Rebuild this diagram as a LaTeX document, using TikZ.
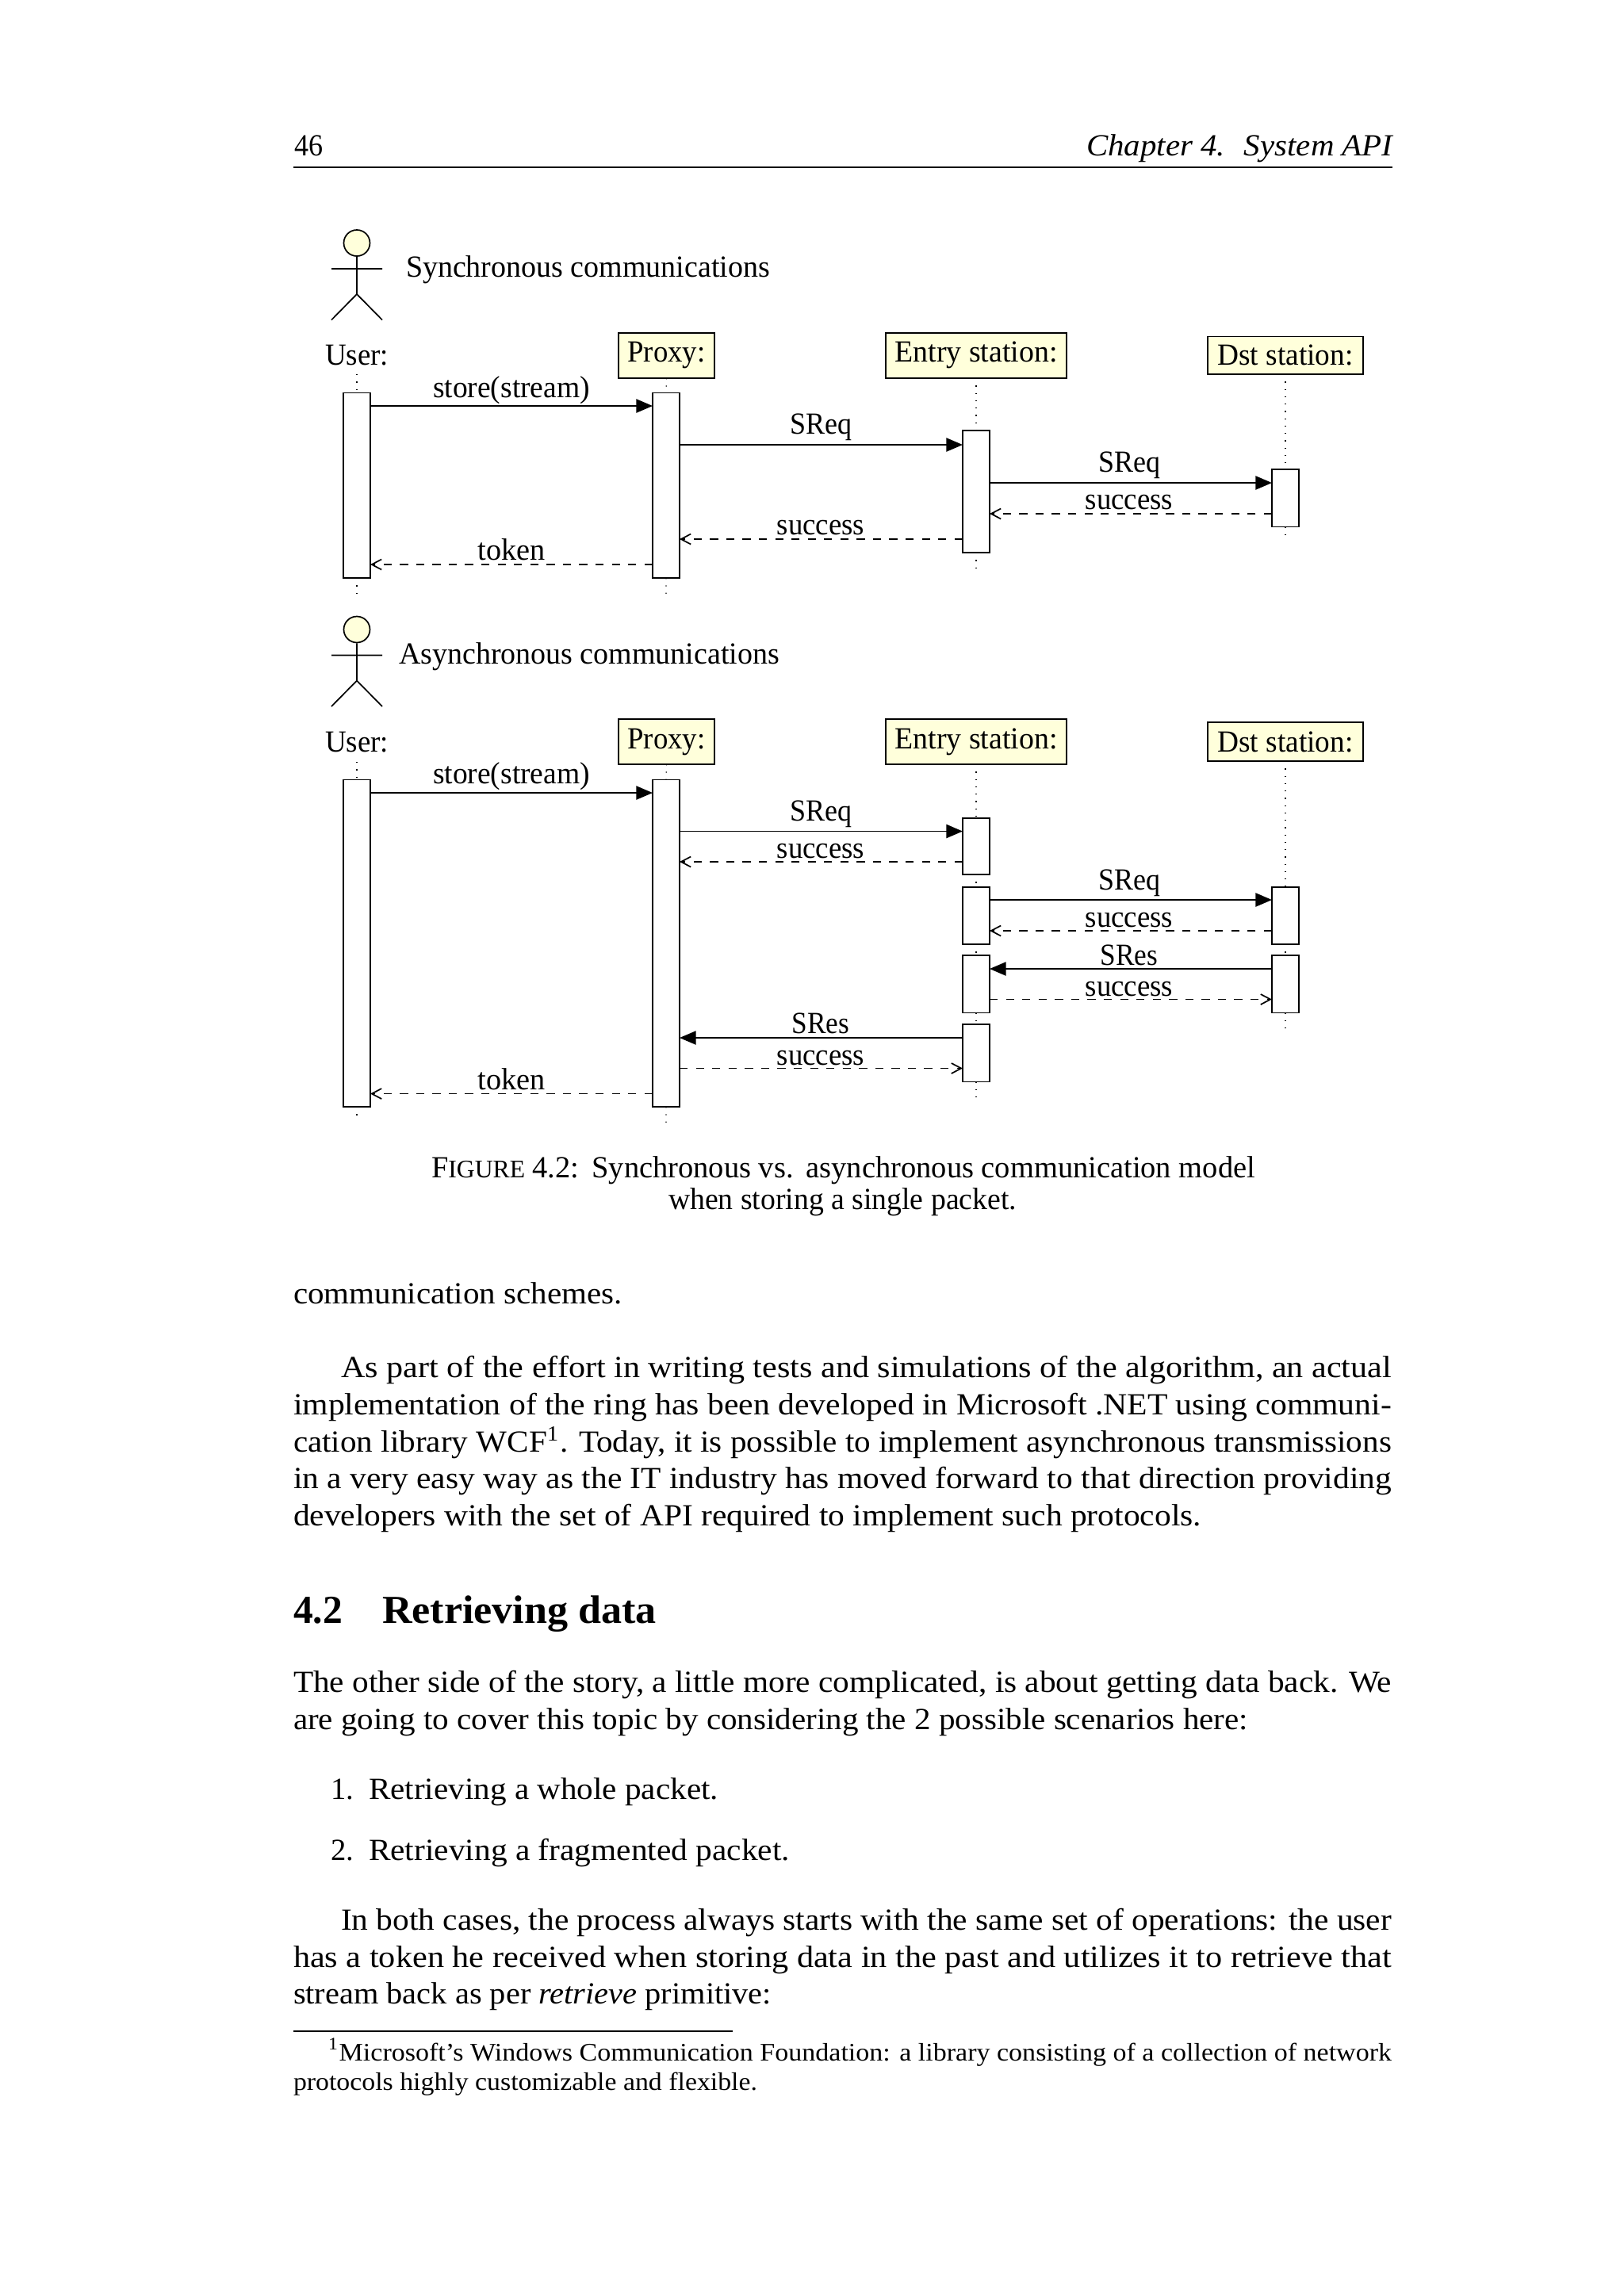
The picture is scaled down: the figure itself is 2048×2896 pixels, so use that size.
\documentclass[tikz,border=0pt]{standalone}
\usepackage{fontspec}
\setmainfont{Liberation Serif}
\usetikzlibrary{arrows.meta}
\newsavebox\mybox
\newcommand\fitw[2]{\sbox\mybox{#2}\pgfmathsetmacro\sxf{#1*0.29175pt/\the\wd\mybox}\scalebox{\sxf}[1]{\usebox\mybox}}
\definecolor{umlyellow}{HTML}{FFFFDB}
\tikzset{
  x=0.29175pt,y=-0.29175pt,
  body/.style={inner sep=0pt,outer sep=0pt,anchor=base west,font=\fontsize{11.3}{13}\selectfont},
  small/.style={body,font=\fontsize{9.3}{11}\selectfont},
  sect/.style={body,font=\fontsize{14.6}{17}\selectfont\bfseries},
  lab/.style={inner sep=0pt,outer sep=0pt,anchor=base,font=\fontsize{11.3}{13}\selectfont},
  headbox/.style={lab,draw=black,fill=umlyellow,line width=0.5pt,anchor=center,minimum width=10pt},
  actbox/.style={draw=black,fill=white,line width=0.5pt,inner sep=0pt,outer sep=0pt,minimum width=34*0.29175pt},
  life/.style={line width=0.4pt,dash pattern=on 0.4pt off 2.3pt},
  syn/.style={line width=0.5pt,-{Triangle[length=6pt,width=5pt]}},
  ret/.style={line width=0.5pt,dash pattern=on 3pt off 3pt,-{Straight Barb[length=3.6pt,width=3.8pt]}},
  rule/.style={line width=0.5pt},
  limb/.style={line width=0.5pt}
}
\newcommand\txt[5][body]{\node[#1] (#2) at (#3) {\fitw{#4}{#5}};}
\newcommand\act[4]{\node[actbox,minimum height={(#4-#3)*0.29175pt}] (#1) at ({#2},{(#3+#4)/2}) {};}
\newcommand\msg[7]{\draw[#1] (#2 |- 0,#4) -- (#3 |- 0,#4);\node[lab] (#5) at (#6) {\fitw{#7}{\csname lbl#5\endcsname}};}
\newcommand\actor[2]{%
  \node[circle,draw=black,fill=umlyellow,line width=0.5pt,inner sep=0pt,minimum size=33*0.29175pt] (#1head) at (450,#2) {};
  \coordinate (#1hip) at (450,#2+64.5);
  \coordinate (#1la) at (418,#2+32.5);\coordinate (#1ra) at (482,#2+32.5);
  \coordinate (#1ll) at (418,#2+97);\coordinate (#1rl) at (482,#2+97);
  \draw[limb] (#1head.south) -- (#1hip) (#1la) -- (#1ra) (#1ll) -- (#1hip) -- (#1rl);}
\begin{document}
\begin{tikzpicture}
\useasboundingbox (0,0) rectangle (2048,2896);
\fill[white] (0,0) rectangle (2048,2896);
% running head
\txt{hn}{371,196}{36}{46}
\txt{hc}{1370,196}{388}{\textit{Chapter 4. \ System API}}
\coordinate (hrl) at (370,211);\coordinate (hrr) at (1756,211);
\draw[rule] (hrl) -- (hrr);
% ---------- synchronous
\actor{a}{306.5}
\txt{st}{512,349}{459}{Synchronous communications}
\node[lab] (u1) at (450,460) {\fitw{80}{User:}};
\node[headbox,minimum width=121*0.29175pt,minimum height=57*0.29175pt] (p1) at (840.5,448.5) {};
\txt[lab]{p1t}{840.5,456}{98}{Proxy:}
\node[headbox,minimum width=228*0.29175pt,minimum height=57*0.29175pt] (e1) at (1231,448.5) {};
\txt[lab]{e1t}{1231,456}{205}{Entry station:}
\node[headbox,minimum width=196*0.29175pt,minimum height=47.5*0.29175pt] (d1) at (1621,448.25) {};
\txt[lab]{d1t}{1621,460}{171}{Dst station:}
\act{au1}{450}{495.5}{729}
\act{ap1}{840}{495.5}{729}
\act{ae1}{1231}{543}{697}
\act{ad1}{1621}{592}{664.5}
\coordinate (u1top) at (450,472);\coordinate (u1end) at (450,748);
\coordinate (p1end) at (840,750);\coordinate (e1end) at (1231,717);\coordinate (d1end) at (1621,681);
\draw[life] (u1top) -- (au1.north) (au1.south) -- (u1end);
\draw[life] (p1.south) -- (ap1.north) (ap1.south) -- (p1end);
\draw[life] (e1.south) -- (ae1.north) (ae1.south) -- (e1end);
\draw[life] (d1.south) -- (ad1.north) (ad1.south) -- (d1end);
\def\lblma{store(stream)}\def\lblmb{SReq}\def\lblmc{SReq}\def\lblmd{success}\def\lblme{success}\def\lblmf{token}
\msg{syn}{au1.east}{ap1.west}{512}{ma}{645,501}{198}
\msg{syn}{ap1.east}{ae1.west}{561}{mb}{1035,547}{78}
\msg{syn}{ae1.east}{ad1.west}{609}{mc}{1424,595}{78}
\msg{ret}{ad1.west}{ae1.east}{648}{md}{1424,642}{110.5}
\msg{ret}{ae1.west}{ap1.east}{680}{me}{1035,674}{110.5}
\msg{ret}{ap1.west}{au1.east}{712}{mf}{645,706}{85}
% ---------- asynchronous
\actor{b}{794}
\txt{at}{503,837}{480}{Asynchronous communications}
\node[lab] (u2) at (450,948) {\fitw{80}{User:}};
\node[headbox,minimum width=121*0.29175pt,minimum height=57*0.29175pt] (p2) at (840.5,935.5) {};
\txt[lab]{p2t}{840.5,944.5}{98}{Proxy:}
\node[headbox,minimum width=228*0.29175pt,minimum height=57*0.29175pt] (e2) at (1231,935.5) {};
\txt[lab]{e2t}{1231,944.5}{205}{Entry station:}
\node[headbox,minimum width=196*0.29175pt,minimum height=49*0.29175pt] (d2) at (1621,935.5) {};
\txt[lab]{d2t}{1621,948}{171}{Dst station:}
\act{au2}{450}{983.5}{1396}
\act{ap2}{840}{983.5}{1396}
\act{ae21}{1231}{1032}{1103}
\act{ae22}{1231}{1119}{1191}
\act{ae23}{1231}{1205}{1277.5}
\act{ae24}{1231}{1292}{1364.5}
\act{ad21}{1621}{1119}{1191}
\act{ad22}{1621}{1205}{1277.5}
\coordinate (u2top) at (450,961);\coordinate (u2end) at (450,1414);
\coordinate (p2end) at (840,1419);\coordinate (e2end) at (1231,1386);\coordinate (d2end) at (1621,1298);
\draw[life] (u2top) -- (au2.north) (au2.south) -- (u2end);
\draw[life] (p2.south) -- (ap2.north) (ap2.south) -- (p2end);
\draw[life] (e2.south) -- (ae21.north) (ae21.south) -- (ae22.north) (ae22.south) -- (ae23.north) (ae23.south) -- (ae24.north) (ae24.south) -- (e2end);
\draw[life] (d2.south) -- (ad21.north) (ad21.south) -- (ad22.north) (ad22.south) -- (d2end);
\def\lblna{store(stream)}\def\lblnb{SReq}\def\lblnc{success}\def\lblnd{SReq}\def\lblne{success}\def\lblnf{SRes}\def\lblng{success}\def\lblnh{SRes}\def\lblni{success}\def\lblnj{token}
\msg{syn}{au2.east}{ap2.west}{1000}{na}{645,988}{198}
\msg{syn}{ap2.east}{ae21.west}{1048.5}{nb}{1035,1035}{78}
\msg{ret}{ae21.west}{ap2.east}{1087}{nc}{1035,1082}{110.5}
\msg{syn}{ae22.east}{ad21.west}{1135}{nd}{1424,1122}{78}
\msg{ret}{ad21.west}{ae22.east}{1174}{ne}{1424,1169}{110.5}
\msg{syn}{ad22.west}{ae23.east}{1222}{nf}{1424,1217}{72.5}
\msg{ret}{ae23.east}{ad22.west}{1260.5}{ng}{1424,1256}{110.5}
\msg{syn}{ae24.west}{ap2.east}{1309}{nh}{1035,1303}{72.5}
\msg{ret}{ap2.east}{ae24.west}{1347.5}{ni}{1035,1343}{110.5}
\msg{ret}{ap2.west}{au2.east}{1379.5}{nj}{645,1374}{85}
% ---------- caption
\txt{c1}{544,1485}{1039}{F{\fontsize{9.3}{11}\selectfont IGURE} 4.2:\hspace{.08em} Synchronous vs.\hspace{.08em} asynchronous communication model}
\txt{c2}{843,1525}{439}{when storing a single packet.}
% ---------- body
\txt{b0}{370,1644}{415}{communication schemes.}
\txt{b1}{430,1737}{1325}{As part of the effort in writing tests and simulations of the algorithm, an actual}
\txt{b2}{370,1784}{1385}{implementation of the ring has been developed in Microsoft .NET using communi-}
\txt{b3}{370,1831}{1385}{cation library WCF\textsuperscript{1}. Today, it is possible to implement asynchronous transmissions}
\txt{b4}{370,1877}{1385}{in a very easy way as the IT industry has moved forward to that direction providing}
\txt{b5}{370,1924}{1145}{developers with the set of API required to implement such protocols.}
\txt[sect]{s0}{370,2047}{62}{4.2}
\txt[sect]{s1}{482,2047}{346}{Retrieving data}
\txt{b6}{370,2134}{1385}{The other side of the story, a little more complicated, is about getting data back. We}
\txt{b7}{370,2181}{1204}{are going to cover this topic by considering the 2 possible scenarios here:}
\txt{i1n}{417,2269}{29}{1.}
\txt{i1}{465,2269}{441}{Retrieving a whole packet.}
\txt{i2n}{417,2346}{29}{2.}
\txt{i2}{465,2346}{531}{Retrieving a fragmented packet.}
\txt{b8}{430,2434}{1325}{In both cases, the process always starts with the same set of operations: the user}
\txt{b9}{370,2481}{1385}{has a token he received when storing data in the past and utilizes it to retrieve that}
\txt{b10}{370,2527}{603}{stream back as per \textit{retrieve} primitive:}
\coordinate (frl) at (370,2562);\coordinate (frr) at (924,2562);
\draw[rule] (frl) -- (frr);
\txt[small]{f1}{414,2599}{1341}{\textsuperscript{1}Microsoft's Windows Communication Foundation: a library consisting of a collection of network}
\txt[small]{f2}{370,2636}{585}{protocols highly customizable and flexible.}
\end{tikzpicture}
\end{document}
